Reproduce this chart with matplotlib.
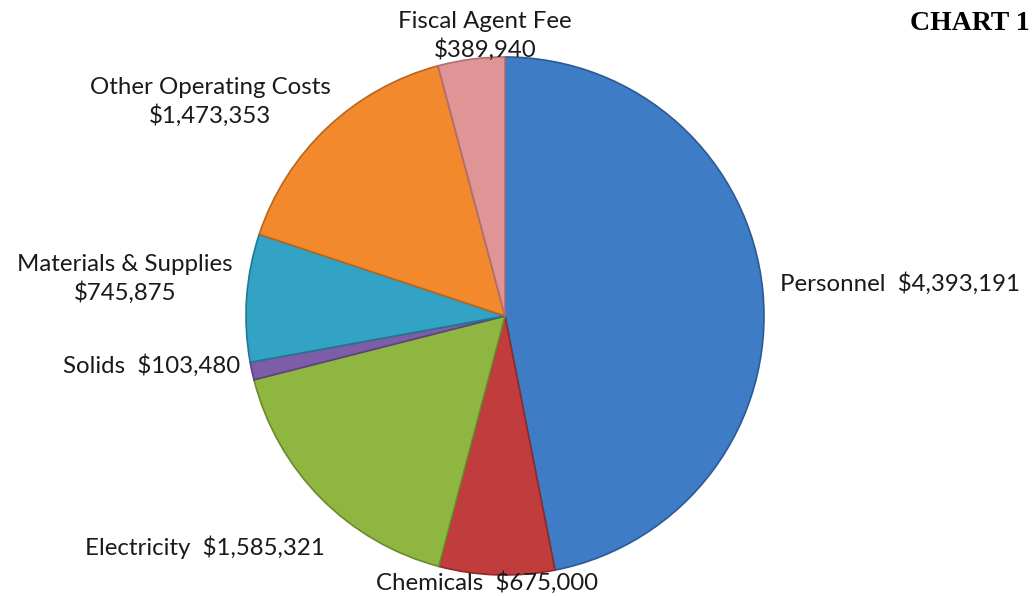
import matplotlib.pyplot as plt

categories = ["Personnel", "Chemicals", "Electricity", "Solids",
              "Materials & Supplies", "Other Operating Costs", "Fiscal Agent Fee"]
amounts = [4393191, 675000, 1585321, 103480, 745875, 1473353, 389940]
colors = ["#3f7cc6", "#c13c3c", "#8fb640", "#7d5da8", "#32a3c4", "#f2892c", "#df9496"]
edges = ["#2c5a94", "#8e2a2a", "#6a8a2c", "#5b4280", "#22788f", "#b8661e", "#b06e70"]

W, H = 1036, 596
fig = plt.figure(figsize=(W / 100, H / 100), dpi=100)
ax = fig.add_axes([0, 0, 1, 1])

# pie in pixel coordinates, starting at 12 o'clock and going clockwise
cx, cy, r = 505, H - 316, 259
wedges, _ = ax.pie(amounts, colors=colors, startangle=90, counterclock=False,
                   center=(cx, cy), radius=r, frame=True,
                   wedgeprops=dict(linewidth=1.2))
for w, e in zip(wedges, edges):
    w.set_edgecolor(e)
ax.set_xlim(0, W)
ax.set_ylim(0, H)
ax.set_aspect("equal")
ax.axis("off")

font = "Lato"
fs = 17.3


def money(v):
    return "${:,}".format(v)


# label positions (pixel coords, y from top)
lab = {
    "Personnel": (900, 284, "single"),
    "Chemicals": (487, 583, "single"),
    "Electricity": (205, 547, "single"),
    "Solids": (152, 366, "single"),
    "Materials & Supplies": (125, 279, "double"),
    "Other Operating Costs": (210, 102, "double"),
    "Fiscal Agent Fee": (485, 36, "double"),
}
for name, val in zip(categories, amounts):
    x, y, kind = lab[name]
    if kind == "single":
        txt = name + "  " + money(val)
    else:
        txt = name + "\n" + money(val)
    ax.text(x, H - y, txt, ha="center", va="center", fontsize=fs,
            family=font, color="#1a1a1a", linespacing=1.3)

ax.text(1030, H - 24, "CHART 1", ha="right", va="center", fontsize=20,
        family="Liberation Serif", fontweight="bold", color="black")

fig.savefig("out.png", dpi=100)
